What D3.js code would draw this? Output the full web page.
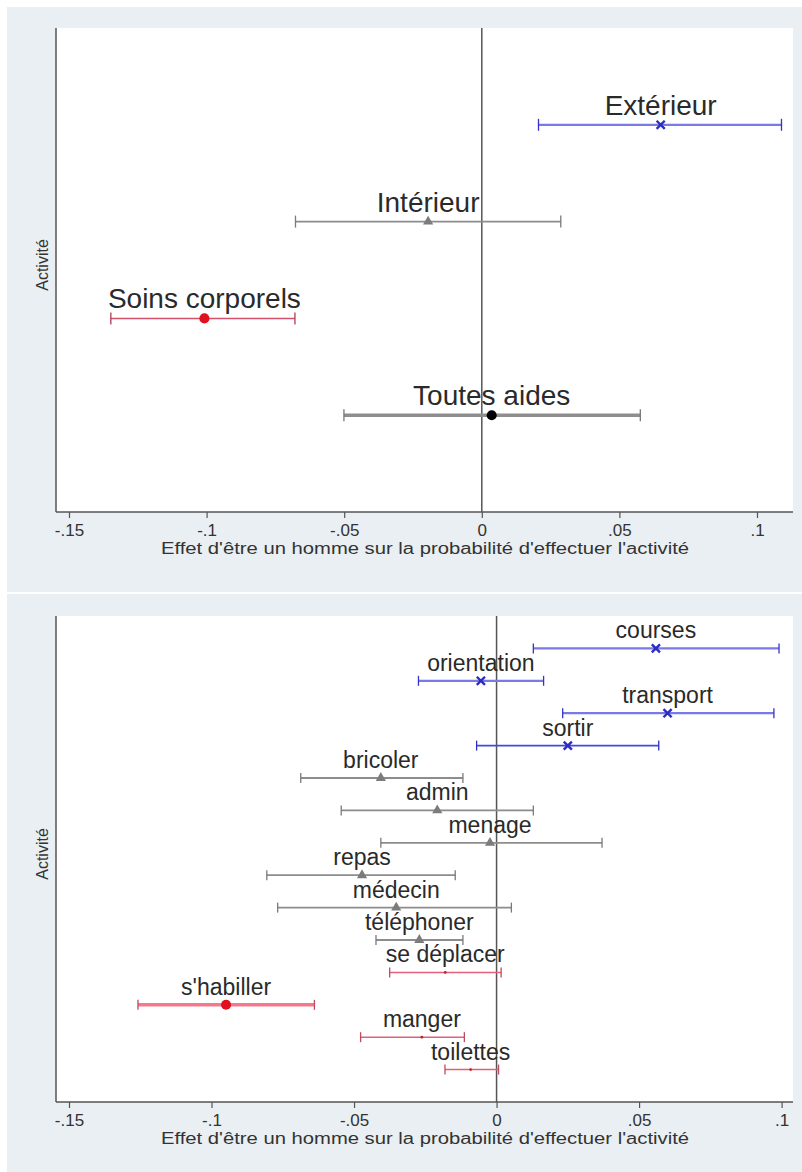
<!DOCTYPE html>
<html>
<head>
<meta charset="utf-8">
<script src="https://cdn.jsdelivr.net/npm/d3@7"></script>
<style>
  body { margin: 0; background: #fff; }
  text { font-family: "Liberation Sans", Arial, sans-serif; }
</style>
</head>
<body>
<div class="chart"></div>
<script>
// Top panel : grandes catégories d'aide
var topLabels = ["Extérieur", "Intérieur", "Soins corporels", "Toutes aides"];
var topEst = [0.065, -0.0195, -0.1008, 0.0036];
var topLow = [0.0206, -0.0677, -0.1348, -0.0501];
var topHigh = [0.1089, 0.0287, -0.0679, 0.0576];
var topGroup = ["blue", "gray", "red", "black"];

// Bottom panel : activités détaillées
var botLabels = ["courses", "orientation", "transport", "sortir", "bricoler", "admin", "menage",
  "repas", "médecin", "téléphoner", "se déplacer", "s'habiller", "manger", "toilettes"];
var botEst = [0.0559, -0.0055, 0.060, 0.025, -0.0406, -0.0208, -0.0023,
  -0.0472, -0.0352, -0.0271, -0.018, -0.0949, -0.0262, -0.0091];
var botLow = [0.0129, -0.0274, 0.0232, -0.007, -0.0687, -0.0545, -0.0406,
  -0.0806, -0.0768, -0.0423, -0.0375, -0.1258, -0.0477, -0.0181];
var botHigh = [0.0991, 0.0165, 0.0973, 0.0569, -0.0118, 0.0129, 0.037,
  -0.0145, 0.0052, -0.0118, 0.0016, -0.0639, -0.0113, 0.0007];
var botGroup = ["blue", "blue", "blue", "blueDark", "gray", "gray", "gray",
  "gray", "gray", "gray", "redSmall", "redBig", "redSmall", "redSmall"];

// Axis ticks
var xTicks = [-0.15, -0.1, -0.05, 0, 0.05, 0.1];
var xTickLabels = ["-.15", "-.1", "-.05", "0", ".05", ".1"];

var xTitle = "Effet d'être un homme sur la probabilité d'effectuer l'activité";
var yTitle = "Activité";

//Styles for each group of estimates
var styles = {
  blue:     { bar: "#7a7ae6", cap: "#3434c8", width: 2.2, marker: "x", mcolor: "#2c2cc4", msize: 45 },
  blueDark: { bar: "#4848d6", cap: "#3030c0", width: 1.6, marker: "x", mcolor: "#2c2cc4", msize: 45 },
  gray:     { bar: "#8c8c8c", cap: "#7a7a7a", width: 1.8, marker: "tri", mcolor: "#7c7c7c", msize: 45 },
  red:      { bar: "#d2506a", cap: "#b03a52", width: 1.5, marker: "circle", mcolor: "#e01020", msize: 80 },
  redBig:   { bar: "#f27a8c", cap: "#c04a5c", width: 3.5, marker: "circle", mcolor: "#e01020", msize: 80 },
  redSmall: { bar: "#e2607a", cap: "#c04a5c", width: 1.5, marker: "circle", mcolor: "#c02030", msize: 6 },
  black:    { bar: "#8e8e8e", cap: "#777", width: 3.5, marker: "circle", mcolor: "#000", msize: 80 }
};

var svgWidth = 802;
var svgHeight = 1172;

var svg = d3.select(".chart")
  .append("svg")
  .attr("width", svgWidth)
  .attr("height", svgHeight);

function drawPanel(p) {
  var g = svg.append("g");
  var n = p.labels.length;

  //Background and plot region
  g.append("rect")
    .attr("x", 7).attr("y", p.bgTop)
    .attr("width", 795).attr("height", p.bgHeight)
    .attr("fill", "#e9eff2");

  g.append("rect")
    .attr("x", p.left).attr("y", p.top)
    .attr("width", p.right - p.left).attr("height", p.bottom - p.top)
    .attr("fill", "#fff");

  //Scales
  var x = d3.scaleLinear()
    .domain([-0.15, 0.1])
    .range(p.xRange);

  var y = d3.scaleLinear()
    .domain([0, n + 1])
    .range([p.bottom, p.top]);

  var pos = function(i) { return y(n - i); };

  //Zero line
  g.append("line")
    .attr("x1", x(0)).attr("x2", x(0))
    .attr("y1", p.top).attr("y2", p.bottom)
    .attr("stroke", "#555")
    .attr("stroke-width", 1.5);

  //Axis lines
  g.append("line")
    .attr("x1", p.left).attr("x2", p.left)
    .attr("y1", p.top).attr("y2", p.bottom)
    .attr("stroke", "#555")
    .attr("stroke-width", 1.5);

  var bottomAxis = d3.axisBottom(x)
    .tickValues(xTicks)
    .tickFormat(function(d, i) { return xTickLabels[i]; })
    .tickSize(6)
    .tickPadding(6);

  var axisG = g.append("g")
    .attr("transform", `translate(0, ${p.bottom})`)
    .call(bottomAxis);
  axisG.select(".domain").remove();
  axisG.selectAll(".tick line").attr("stroke", "#555").attr("stroke-width", 1.2);
  axisG.selectAll(".tick text")
    .attr("fill", "#333")
    .style("font-size", "17px")
    .style("font-family", "'Liberation Sans', Arial, sans-serif");

  g.append("line")
    .attr("x1", p.left).attr("x2", p.right)
    .attr("y1", p.bottom).attr("y2", p.bottom)
    .attr("stroke", "#555")
    .attr("stroke-width", 1.5);

  //Confidence intervals
  var idx = d3.range(n);
  var bars = g.selectAll("g.ci")
    .data(idx)
    .enter()
    .append("g")
    .attr("class", "ci");

  bars.append("line")
    .attr("x1", i => x(p.low[i]))
    .attr("x2", i => x(p.high[i]))
    .attr("y1", i => pos(i))
    .attr("y2", i => pos(i))
    .attr("stroke", i => styles[p.group[i]].bar)
    .attr("stroke-width", i => styles[p.group[i]].width);

  [p.low, p.high].forEach(function(vals) {
    bars.append("line")
      .attr("x1", i => x(vals[i]))
      .attr("x2", i => x(vals[i]))
      .attr("y1", i => pos(i) - p.cap)
      .attr("y2", i => pos(i) + p.cap)
      .attr("stroke", i => styles[p.group[i]].cap)
      .attr("stroke-width", 1.3);
  });

  //Point estimates
  bars.append("path")
    .attr("transform", i => `translate(${x(p.est[i])}, ${pos(i)})`)
    .attr("d", function(i) {
      var s = styles[p.group[i]];
      var type = s.marker == "x" ? d3.symbolX : (s.marker == "tri" ? d3.symbolTriangle : d3.symbolCircle);
      return d3.symbol().type(type).size(s.msize)();
    })
    .attr("fill", i => styles[p.group[i]].marker == "x" ? "none" : styles[p.group[i]].mcolor)
    .attr("stroke", i => styles[p.group[i]].marker == "x" ? styles[p.group[i]].mcolor : "none")
    .attr("stroke-width", 2.4);

  //Activity labels
  g.selectAll("text.lab")
    .data(idx)
    .enter()
    .append("text")
    .attr("class", "lab")
    .attr("x", i => x(p.est[i]))
    .attr("y", i => pos(i) - 10)
    .attr("text-anchor", "middle")
    .attr("fill", "#2a2a2a")
    .style("font-size", p.labelSize + "px")
    .text(i => p.labels[i]);

  //Axis titles
  g.append("text")
    .attr("x", 425)
    .attr("y", p.bottom + 42)
    .attr("text-anchor", "middle")
    .attr("fill", "#333")
    .attr("textLength", 528)
    .attr("lengthAdjust", "spacingAndGlyphs")
    .style("font-size", "16px")
    .text(xTitle);

  g.append("text")
    .attr("transform", `translate(48, ${(p.top + p.bottom) / 2 - 5}) rotate(-90)`)
    .attr("text-anchor", "middle")
    .attr("fill", "#333")
    .style("font-size", "16px")
    .text(yTitle);
}

drawPanel({
  labels: topLabels, est: topEst, low: topLow, high: topHigh, group: topGroup,
  bgTop: 7, bgHeight: 585, left: 56, right: 793, top: 28, bottom: 512,
  xRange: [69, 757], cap: 6, labelSize: 28
});

drawPanel({
  labels: botLabels, est: botEst, low: botLow, high: botHigh, group: botGroup,
  bgTop: 594, bgHeight: 578, left: 56, right: 793, top: 616, bottom: 1102,
  xRange: [69, 781.6], cap: 5, labelSize: 23
});
</script>
</body>
</html>
